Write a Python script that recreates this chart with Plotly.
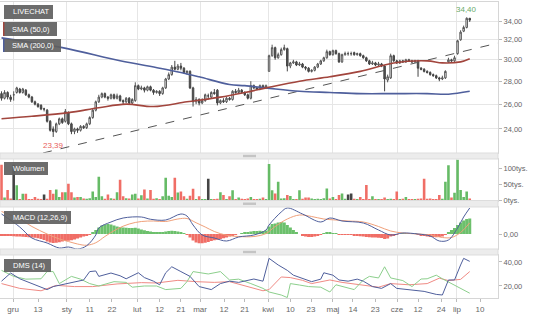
import math
import plotly.graph_objects as go

# ---------------- data ----------------
tick_pos = [3.8, 12, 21.5, 29, 36.3, 44.6, 52, 59, 65.3, 73.2, 80, 87.7, 95, 101.8,
            109, 115.6, 122.9, 130.1, 137, 144.6, 149.8, 157.4]
tick_labels = ["gru", "13", "sty", "11", "22", "lut", "12", "21", "mar", "12", "21",
               "kwi", "10", "23", "maj", "14", "23", "cze", "12", "24", "lip", "10"]

open_ = [26.9, 26.5, 27.0, 26.6, 26.8, 27.0, 27.3, 27.0, 27.2, 26.8,
         26.6, 26.2, 26.0, 25.9, 25.6, 25.5, 24.6, 24.0, 23.8, 24.4,
         24.8, 24.6, 25.3, 24.4, 23.8, 24.0, 23.9, 24.2, 24.1, 24.4,
         24.9, 25.5, 26.2, 26.6, 26.9, 26.6, 26.5, 26.8, 26.5, 26.7,
         26.3, 26.2, 26.5, 26.1, 26.3, 27.6, 27.3, 27.4, 27.2, 27.5,
         27.2, 27.0, 27.1, 26.9, 27.4, 28.2, 28.6, 29.3, 29.1, 29.4,
         29.2, 28.8, 28.9, 27.4, 26.2, 26.4, 26.1, 26.3, 26.7, 26.6,
         27.0, 27.2, 26.1, 26.3, 26.2, 26.5, 26.4, 27.1, 27.0, 27.2,
         27.0, 26.8, 26.5, 27.6, 27.4, 27.3, 27.6, 27.4, 28.9, 30.4,
         31.2, 30.2, 30.5, 31.0, 31.1, 29.4, 29.7, 29.8, 29.5, 29.6,
         29.3, 29.2, 28.9, 29.0, 29.3, 29.6, 29.9, 30.2, 30.8, 30.5,
         30.9, 30.6, 29.8, 30.5, 30.6, 30.6, 30.7, 30.5, 30.6, 30.4,
         30.2, 29.9, 29.6, 29.7, 29.5, 29.6, 29.4, 28.1, 28.3, 30.4,
         29.9, 29.7, 29.9, 29.8, 30.0, 29.9, 29.8, 29.9, 29.2, 29.1,
         28.9, 28.8, 28.6, 28.5, 28.3, 28.2, 28.3, 29.8, 30.0, 29.9,
         30.6, 32.0, 32.9, 33.3, 34.3]
high = [27.1, 27.2, 27.1, 26.8, 27.1, 27.5, 27.4, 27.4, 27.3, 26.9,
        26.7, 26.3, 26.1, 26.0, 25.7, 25.6, 24.7, 24.2, 24.5, 24.9,
        24.9, 25.6, 25.4, 24.5, 24.1, 24.1, 24.3, 24.3, 24.5, 25.0,
        25.6, 26.3, 26.8, 27.0, 27.0, 26.7, 26.9, 26.9, 26.9, 26.8,
        26.4, 26.6, 26.6, 26.5, 27.9, 27.7, 27.6, 27.5, 27.6, 27.6,
        27.3, 27.2, 27.2, 27.5, 28.3, 28.8, 29.5, 29.9, 29.6, 29.7,
        29.3, 29.0, 29.0, 27.5, 26.6, 26.5, 26.5, 26.9, 26.9, 27.1,
        27.3, 27.3, 26.4, 26.5, 26.6, 26.6, 27.2, 27.3, 27.4, 27.3,
        27.1, 26.9, 28.0, 27.7, 27.5, 27.7, 27.7, 27.7, 30.5, 31.5,
        31.3, 30.7, 31.2, 31.5, 31.2, 29.8, 30.0, 29.9, 29.8, 29.7,
        29.4, 29.3, 29.1, 29.4, 29.7, 30.0, 30.3, 31.0, 30.9, 31.0,
        31.0, 30.7, 30.6, 30.8, 30.8, 30.8, 30.8, 30.7, 30.7, 30.5,
        30.3, 30.0, 29.9, 29.8, 29.8, 29.7, 29.5, 28.6, 30.6, 30.5,
        30.0, 30.0, 30.0, 30.1, 30.1, 30.0, 30.0, 30.0, 29.3, 29.2,
        29.0, 28.9, 28.7, 28.6, 28.4, 28.5, 29.0, 30.2, 30.1, 30.4,
        32.0, 33.0, 33.5, 34.4, 34.3]
low = [26.3, 26.4, 26.4, 26.2, 26.3, 26.9, 26.9, 26.9, 26.7, 26.5,
       26.1, 25.9, 25.7, 25.5, 25.4, 24.5, 23.8, 23.39, 23.7, 24.3,
       24.4, 24.5, 24.3, 23.6, 23.6, 23.7, 23.8, 24.0, 24.0, 24.3,
       24.8, 25.4, 26.1, 26.5, 26.5, 26.3, 26.4, 26.4, 26.4, 26.2,
       26.0, 26.1, 26.0, 26.0, 26.2, 27.2, 27.2, 27.0, 27.1, 27.1,
       26.8, 26.9, 26.7, 26.8, 27.3, 28.1, 28.5, 29.0, 29.0, 29.0,
       28.7, 28.6, 27.3, 25.8, 26.0, 25.9, 26.0, 26.2, 26.4, 26.5,
       26.8, 25.9, 26.0, 26.1, 26.1, 26.3, 26.3, 26.9, 26.9, 26.9,
       26.7, 26.4, 26.4, 27.3, 27.2, 27.2, 27.3, 27.3, 28.9, 30.3,
       30.0, 30.1, 30.4, 30.9, 28.9, 29.2, 29.6, 29.4, 29.4, 29.2,
       29.0, 28.8, 28.8, 28.9, 29.2, 29.5, 29.8, 30.1, 30.4, 30.4,
       30.5, 29.7, 29.7, 30.4, 30.4, 30.4, 30.4, 30.4, 30.3, 30.1,
       29.8, 29.5, 29.5, 29.4, 29.4, 29.3, 27.1, 27.9, 28.2, 29.8,
       29.6, 29.6, 29.7, 29.7, 29.8, 29.7, 29.7, 28.4, 29.0, 28.8,
       28.7, 28.5, 28.4, 28.2, 28.0, 28.1, 28.2, 29.7, 29.8, 29.8,
       30.5, 31.9, 32.8, 33.2, 33.9]
close = [26.5, 27.0, 26.6, 26.4, 26.8, 27.4, 27.0, 27.3, 26.8, 26.6,
         26.2, 26.0, 25.8, 25.6, 25.6, 24.6, 23.9, 23.8, 24.4, 24.8,
         24.5, 25.4, 24.4, 23.8, 24.0, 23.9, 24.2, 24.1, 24.4, 24.9,
         25.5, 26.2, 26.6, 26.9, 26.6, 26.5, 26.8, 26.5, 26.7, 26.3,
         26.2, 26.5, 26.1, 26.4, 27.6, 27.3, 27.4, 27.2, 27.5, 27.2,
         27.0, 27.1, 26.9, 27.4, 28.2, 28.6, 29.3, 29.1, 29.4, 29.2,
         28.8, 28.9, 27.4, 26.2, 26.4, 26.1, 26.3, 26.8, 26.7, 27.0,
         26.9, 26.1, 26.3, 26.2, 26.5, 26.4, 27.1, 27.0, 27.2, 27.0,
         26.8, 26.5, 27.6, 27.4, 27.3, 27.6, 27.4, 27.6, 30.4, 31.2,
         30.2, 30.5, 31.0, 31.2, 29.4, 29.7, 29.8, 29.5, 29.6, 29.3,
         29.2, 28.9, 29.0, 29.3, 29.6, 29.9, 30.2, 30.8, 30.5, 30.9,
         30.6, 29.8, 30.5, 30.6, 30.6, 30.6, 30.5, 30.6, 30.4, 30.2,
         29.9, 29.6, 29.7, 29.5, 29.6, 29.4, 28.2, 28.4, 30.4, 29.9,
         29.7, 29.9, 29.8, 30.0, 29.9, 29.8, 29.9, 29.2, 29.1, 28.9,
         28.8, 28.6, 28.5, 28.3, 28.2, 28.3, 28.9, 30.0, 29.9, 30.2,
         31.9, 32.8, 33.3, 34.3, 34.1]

volume_k = [113, 8, 32, 5, 113, 47, 3, 20, 20, 3,
            3, 10, 4, 3, 18, 4, 32, 20, 34, 10,
            25, 25, 52, 25, 8, 10, 10, 5, 4, 6,
            27, 10, 74, 12, 4, 18, 6, 4, 25, 65,
            12, 6, 5, 18, 20, 5, 15, 34, 5, 32,
            4, 6, 3, 12, 71, 14, 10, 71, 24, 27,
            12, 4, 14, 36, 3, 12, 3, 2, 68, 3,
            3, 4, 25, 16, 3, 12, 31, 3, 8, 4,
            3, 5, 10, 3, 3, 4, 8, 3, 115, 31,
            21, 58, 5, 6, 16, 13, 3, 3, 31, 4,
            8, 8, 5, 3, 4, 3, 6, 37, 5, 10,
            3, 16, 21, 4, 18, 21, 4, 3, 10, 3,
            48, 3, 12, 3, 2, 3, 8, 3, 4, 3,
            27, 3, 4, 10, 3, 2, 3, 4, 5, 68,
            4, 5, 3, 3, 16, 4, 58, 111, 8, 23,
            129, 32, 10, 27, 5]

sma50_x = [0, 10, 22, 32, 41, 50, 61, 72, 80, 87, 98, 108, 118, 129, 140, 145, 151, 154]
sma50_y = [24.8, 25.0, 25.3, 25.7, 26.0, 25.8, 26.2, 26.6, 27.0, 27.4, 28.0, 28.4,
           28.9, 29.7, 29.9, 29.7, 29.8, 30.1]
sma200_x = [0, 20, 39, 52, 59, 65, 75, 80, 87, 98, 108, 118, 129, 140, 147, 154]
sma200_y = [32.2, 31.2, 29.9, 29.2, 28.8, 28.4, 27.7, 27.6, 27.4, 27.1, 27.0, 26.9,
            26.9, 26.9, 26.85, 27.1]
trend_x = [13.65, 163.3]
trend_y = [22.21, 31.67]

macd_hist = [-0.05, -0.06, -0.08, -0.08, -0.09, -0.10, -0.10, -0.11, -0.12, -0.13,
             -0.14, -0.15, -0.17, -0.20, -0.24, -0.30, -0.34, -0.36, -0.35, -0.33,
             -0.30, -0.28, -0.27, -0.25, -0.22, -0.18, -0.14, -0.10, -0.06, -0.02,
             0.06, 0.16, 0.26, 0.34, 0.38, 0.40, 0.38, 0.34, 0.30, 0.28,
             0.26, 0.25, 0.24, 0.24, 0.25, 0.22, 0.18, 0.15, 0.12, 0.10,
             0.08, 0.06, 0.05, 0.06, 0.10, 0.12, 0.13, 0.12, 0.10, 0.08,
             0.04, -0.02, -0.14, -0.26, -0.34, -0.37, -0.37, -0.35, -0.32, -0.28,
             -0.25, -0.23, -0.20, -0.17, -0.14, -0.10, -0.06, -0.03, 0.00, 0.03,
             0.05, 0.08, 0.10, 0.12, 0.12, 0.13, 0.12, 0.14, 0.30, 0.40,
             0.42, 0.46, 0.48, 0.46, 0.36, 0.26, 0.16, 0.08, 0.00, -0.06,
             -0.10, -0.12, -0.12, -0.10, -0.07, -0.03, 0.02, 0.06, 0.06, 0.04,
             0.02, -0.02, -0.03, -0.03, -0.03, -0.04, -0.05, -0.07, -0.09, -0.10,
             -0.12, -0.13, -0.14, -0.14, -0.15, -0.16, -0.20, -0.18, -0.10, -0.05,
             -0.02, 0.00, 0.01, 0.02, 0.02, 0.01, 0.01, -0.02, -0.05, -0.08,
             -0.10, -0.12, -0.12, -0.13, -0.12, -0.10, -0.04, 0.06, 0.16, 0.24,
             0.36, 0.46, 0.54, 0.60, 0.62]
macd_x = [0, 6, 10, 15, 19, 22, 25, 28, 31, 32, 36, 40, 46, 49, 54, 59, 61, 63, 66, 70,
          74, 78, 83, 87, 88, 92, 94, 99, 105, 108, 112, 119, 124, 128, 132, 137, 141,
          144, 147, 150, 152, 154]
macd_y = [0.80, 0.28, -0.16, -0.36, -0.56, -0.52, -0.60, -0.47, -0.04, 0.24, 0.48, 0.64,
          0.68, 0.59, 0.56, 0.80, 0.72, 0.36, -0.04, -0.16, -0.28, -0.12, -0.04, 0.16,
          0.36, 0.88, 1.04, 0.80, 0.48, 0.64, 0.52, 0.44, 0.16, -0.04, 0.04, 0.00,
          -0.08, -0.28, -0.24, 0.24, 0.68, 1.04]
signal_x = [0, 6, 10, 15, 19, 22, 25, 28, 31, 34, 38, 42, 46, 50, 54, 58, 61, 64, 67, 70,
            74, 78, 83, 87, 90, 94, 98, 102, 106, 110, 114, 119, 124, 128, 132, 137, 141,
            145, 148, 151, 154]
signal_y = [0.90, 0.60, 0.30, 0.00, -0.20, -0.30, -0.40, -0.45, -0.35, -0.10, 0.20, 0.40,
            0.50, 0.52, 0.50, 0.60, 0.62, 0.45, 0.28, 0.10, -0.05, -0.10, -0.10, 0.02,
            0.30, 0.60, 0.76, 0.70, 0.60, 0.56, 0.52, 0.48, 0.30, 0.12, 0.04, 0.00,
            -0.04, -0.14, -0.14, 0.06, 0.45]

dip_x = [0, 3, 6, 10, 15, 17, 20, 24, 27, 29, 31, 32, 36, 39, 41, 45, 47, 50, 52, 54,
         56, 59, 62, 65, 69, 72, 75, 78, 83, 86, 88, 91, 94, 96, 99, 102, 105, 106, 109,
         111, 114, 117, 119, 122, 125, 128, 130, 134, 139, 143, 145, 147, 149, 151, 152, 154]
dip_y = [24, 30.8, 26, 22, 17, 19.5, 21, 23.6, 25, 32, 32.5, 28, 30.8, 28.5, 26, 31, 27,
         24, 21, 31, 36, 32, 28, 19.5, 17, 22, 24, 23, 25.8, 24, 43, 37.5, 33, 29, 26,
         23.6, 25.7, 31, 29, 25, 24, 25.7, 24, 19.5, 18, 22, 18, 17, 15.5, 13, 12.5, 25,
         25, 37.5, 43, 40.5]
dim_x = [0, 4, 8, 13, 15, 17, 19, 23, 26, 29, 32, 37, 41, 43, 47, 51, 54, 59, 61, 63, 68,
         72, 75, 78, 82, 86, 88, 92, 94, 95, 98, 101, 105, 108, 110, 114, 116, 119, 121,
         124, 126, 128, 132, 135, 138, 140, 143, 145, 148, 150, 153, 154]
dim_y = [33, 28, 25.7, 26, 32, 32, 22, 28, 25.7, 22, 20, 23.6, 23, 19, 20, 20, 17, 18,
         23.6, 32, 30, 32, 25, 25.7, 22, 18, 15, 12.5, 10.4, 22, 20.8, 19.5, 19, 15, 21,
         18, 17, 25, 28, 26.7, 36, 26.7, 24.5, 19.5, 25.8, 26, 29, 26, 22, 19.5, 15.5, 14]
adx_x = [0, 6, 13, 18, 24, 30, 38, 46, 51, 58, 64, 70, 75, 81, 86, 88, 92, 95, 99, 102,
         108, 112, 118, 124, 128, 134, 140, 144, 147, 151, 154]
adx_y = [22, 18, 16, 20.5, 19.5, 19.5, 21.7, 22.8, 22.5, 24.7, 23.6, 23, 23.6, 19.5, 16,
         17, 27.5, 27, 24.7, 22, 25, 23, 21, 19, 22, 21, 22, 26.5, 24.5, 25.5, 32]

price_ticks = [24, 26, 28, 30, 32, 34]
price_labels = ["24,00", "26,00", "28,00", "30,00", "32,00", "34,00"]
vol_ticks = [0, 50000, 100000]
vol_labels = ["0tys.", "50tys.", "100tys."]
macd_ticks = [0]
macd_labels = ["0,00"]
dms_ticks = [20, 40]
dms_labels = ["20,00", "40,00"]

# ---------------- figure ----------------
n = len(close)
idx = list(range(n))
month_pos = [p for p, lab in zip(tick_pos, tick_labels) if lab.isalpha()]

FONT = "Arial, Liberation Sans, sans-serif"
GRID = "#e6e6e6"
FRAME = "#d6d6d6"
TXT = "#666666"

fig = go.Figure()

fig.add_trace(go.Candlestick(
    x=idx, open=open_, high=high, low=low, close=close,
    increasing=dict(line=dict(color="#555555", width=1), fillcolor="#ffffff"),
    decreasing=dict(line=dict(color="#444444", width=1), fillcolor="#555555"),
    whiskerwidth=0, xaxis="x", yaxis="y", hoverinfo="skip"))
fig.add_trace(go.Scatter(x=trend_x, y=trend_y, mode="lines",
                         line=dict(color="#555555", width=1, dash="dash"),
                         xaxis="x", yaxis="y"))
fig.add_trace(go.Scatter(x=sma200_x, y=sma200_y, mode="lines", line_shape="spline",
                         line=dict(color="#4f5f9c", width=1.6), xaxis="x", yaxis="y"))
fig.add_trace(go.Scatter(x=sma50_x, y=sma50_y, mode="lines", line_shape="spline",
                         line=dict(color="#a2453d", width=1.6), xaxis="x", yaxis="y"))

vol_colors = []
for o, c in zip(open_, close):
    if c > o:
        vol_colors.append("#66bb66")
    elif c < o:
        vol_colors.append("#f06e66")
    else:
        vol_colors.append("#444444")
fig.add_trace(go.Bar(x=idx, y=[v * 1000 for v in volume_k], marker_color=vol_colors,
                     marker_line_width=0, width=0.85, xaxis="x2", yaxis="y2"))

hist_colors = ["#6cc06c" if h >= 0 else "#f06e66" for h in macd_hist]
fig.add_trace(go.Bar(x=idx, y=macd_hist, marker_color=hist_colors, marker_line_width=0,
                     width=1.0, xaxis="x3", yaxis="y3"))
fig.add_trace(go.Scatter(x=signal_x, y=signal_y, mode="lines", line_shape="spline",
                         line=dict(color="#f0a07a", width=1), xaxis="x3", yaxis="y3"))
fig.add_trace(go.Scatter(x=macd_x, y=macd_y, mode="lines", line_shape="spline",
                         line=dict(color="#4f5f9c", width=1), xaxis="x3", yaxis="y3"))

fig.add_trace(go.Scatter(x=adx_x, y=adx_y, mode="lines",
                         line=dict(color="#f08a84", width=1), xaxis="x4", yaxis="y4"))
fig.add_trace(go.Scatter(x=dim_x, y=dim_y, mode="lines",
                         line=dict(color="#8ccf8c", width=1), xaxis="x4", yaxis="y4"))
fig.add_trace(go.Scatter(x=dip_x, y=dip_y, mode="lines",
                         line=dict(color="#4f5f9c", width=1), xaxis="x4", yaxis="y4"))

PLOT_W = 498.0
TOP_PX, BOT_PX = 2.0, 298.0
H = BOT_PX - TOP_PX


def py(p):
    return (BOT_PX - p) / H


def pxx(p):
    return p / PLOT_W


xr = [-0.5, 163.3]


def xaxis(anchor, labels):
    d = dict(domain=[0, 1], anchor=anchor, range=xr, showgrid=False, zeroline=False,
             showline=True, linecolor=FRAME, mirror=True,
             tickmode="array", tickvals=tick_pos, ticktext=tick_labels,
             showticklabels=labels, ticks="outside" if labels else "",
             ticklen=3, tickcolor="#bbbbbb",
             tickfont=dict(family=FONT, size=8, color=TXT),
             minor=dict(tickmode="array", tickvals=month_pos, showgrid=True,
                        gridcolor=GRID, gridwidth=1, ticks=""),
             rangeslider=dict(visible=False), fixedrange=True)
    if anchor != "y":
        d["matches"] = "x"
    return d


def yaxis(dom, rng, tv, tt, grid, typ="linear"):
    return dict(domain=dom, range=rng, type=typ, side="right", anchor="x",
                tickmode="array", tickvals=tv, ticktext=tt, showgrid=grid,
                gridcolor=GRID, zeroline=False, showline=True, linecolor=FRAME,
                mirror=True, ticks="outside", ticklen=3, tickcolor="#bbbbbb",
                tickfont=dict(family=FONT, size=7.5, color=TXT), fixedrange=True)


main_dom = [py(153), 1.0]
vol_dom = [py(200.5), py(159)]
macd_dom = [py(249), py(207)]
dms_dom = [0.0, py(255)]

layout = dict(
    width=536, height=315,
    margin=dict(l=0, r=38, t=2, b=17),
    paper_bgcolor="white", plot_bgcolor="white",
    showlegend=False,
    font=dict(family=FONT, color=TXT),
    xaxis=xaxis("y", False), xaxis2=xaxis("y2", False),
    xaxis3=xaxis("y3", False), xaxis4=xaxis("y4", True),
    yaxis=yaxis(main_dom, [math.log10(22.21), math.log10(36.15)], price_ticks,
                price_labels, True, "log"),
    yaxis2=yaxis(vol_dom, [-1500, 131000], vol_ticks, vol_labels, False),
    yaxis3=yaxis(macd_dom, [-0.6, 1.08], macd_ticks, macd_labels, False),
    yaxis4=yaxis(dms_dom, [10, 45.8], dms_ticks, dms_labels, False),
)
layout["yaxis2"]["anchor"] = "x2"
layout["yaxis3"]["anchor"] = "x3"
layout["yaxis4"]["anchor"] = "x4"
fig.update_layout(**layout)

shapes = []
# separator strips between panels with drag handles
for top, bot in [(153, 159), (200.5, 207), (249, 255)]:
    shapes.append(dict(type="rect", xref="paper", yref="paper", x0=0, x1=1,
                       y0=py(bot), y1=py(top), fillcolor="#ececec",
                       line=dict(color="#dddddd", width=1), layer="above"))
    mid = (top + bot) / 2
    shapes.append(dict(type="rect", xref="paper", yref="paper", x0=pxx(243), x1=pxx(256),
                       y0=py(mid + 1.2), y1=py(mid - 1.2), fillcolor="#c4c4c4",
                       line=dict(width=0), layer="above"))

# label boxes
boxes = [("LIVECHAT", 4, 5, 53, 19), ("SMA (50,0)", 3, 22, 57, 36),
         ("SMA (200,0)", 3, 39, 61, 52), ("Wolumen", 4, 162, 48, 175),
         ("MACD (12,26,9)", 4, 211, 71, 224), ("DMS (14)", 4, 259, 51, 272)]
annotations = []
for text, x0, y0, x1, y1 in boxes:
    shapes.append(dict(type="rect", xref="paper", yref="paper", x0=pxx(x0), x1=pxx(x1),
                       y0=py(y1), y1=py(y0), fillcolor="rgba(95,95,95,0.92)",
                       line=dict(width=0), layer="above"))
    annotations.append(dict(xref="paper", yref="paper", x=pxx(x0 + 7), y=py((y0 + y1) / 2),
                            xanchor="left", yanchor="middle", showarrow=False, text=text,
                            font=dict(family=FONT, size=7.5, color="white")))
shapes.append(dict(type="rect", xref="paper", yref="paper", x0=pxx(3), x1=pxx(4.5),
                   y0=py(36), y1=py(22), fillcolor="#a2453d", line=dict(width=0),
                   layer="above"))
shapes.append(dict(type="rect", xref="paper", yref="paper", x0=pxx(3), x1=pxx(4.5),
                   y0=py(52), y1=py(39), fillcolor="#4f5f9c", line=dict(width=0),
                   layer="above"))

# extreme price labels
i_hi = max(range(n), key=lambda i: high[i])
i_lo = min(range(n), key=lambda i: low[i])
annotations.append(dict(x=i_hi, y=math.log10(high[i_hi]), xref="x", yref="y",
                        text=f"{high[i_hi]:.2f}".replace(".", ","), showarrow=False,
                        yanchor="bottom", yshift=1,
                        font=dict(family=FONT, size=8, color="#6aaa6a")))
annotations.append(dict(x=i_lo, y=math.log10(low[i_lo]), xref="x", yref="y",
                        text=f"{low[i_lo]:.2f}".replace(".", ","), showarrow=False,
                        yanchor="top", yshift=-2,
                        font=dict(family=FONT, size=8, color="#e8605a")))

fig.update_layout(shapes=shapes, annotations=annotations)
fig.write_html("out.html")
